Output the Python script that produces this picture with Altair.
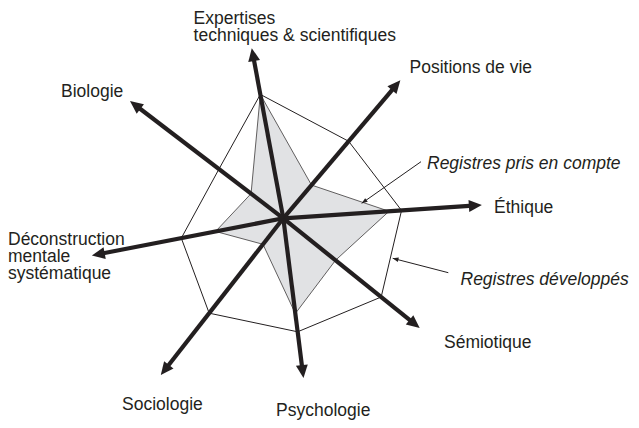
import altair as alt
import pandas as pd

# ---- data ----
categories = [
    "Expertises\ntechniques & scientifiques",
    "Positions de vie",
    "Éthique",
    "Sémiotique",
    "Psychologie",
    "Sociologie",
    "Déconstruction\nmentale\nsystématique",
    "Biologie",
]
# direction of each axis (degrees, counter-clockwise from east) and arrow length
axis_angle = [100.5, 49.7, 3.8, -38.8, -82.8, 232.0, 191.0, 142.6]
axis_length = [173, 181, 199, 175, 161, 199, 195, 193]
# outer polygon: "Registres développés"
registres_developpes = [126, 101, 118.5, 125.6, 114.4, 120.4, 103.9, 81]
# grey polygon: "Registres pris en compte"
registres_pris = [126, 43.6, 106, 67, 96, 33, 69, 40.6]

# ---- layout (label anchors relative to centre, first-line baseline) ----
label_dx = [-89.7, 126.2, 210.7, 160.7, -7.3, -161.3, -275.3, -222.3]
label_dy = [194.0, 145.3, 5.3, -129.7, -197.7, -191.7, -26.7, 121.3]

ann_text = ["Registres pris en compte", "Registres développés"]
ann_tx = [143.7, 177.2]
ann_ty = [49.4, -66.6]
ann_x1 = [137.7, 165.0]
ann_y1 = [56.6, -54.4]
ann_x2 = [78.4, 109.4]
ann_y2 = [15.0, -40.0]

INK = "#231f20"
FONT = "Liberation Sans"
FS = 17.5

df = pd.DataFrame({
    "cat": categories,
    "angle": axis_angle,
    "length": axis_length,
    "dev": registres_developpes,
    "pris": registres_pris,
    "ldx": label_dx,
    "ldy": label_dy,
    "idx": list(range(len(categories))),
})
ann = pd.DataFrame({"t": ann_text, "tx": ann_tx, "ty": ann_ty,
                    "x1": ann_x1, "y1": ann_y1, "x2": ann_x2, "y2": ann_y2})

xs = alt.Scale(domain=[-275.3, 347.7], nice=False, zero=False)
ys = alt.Scale(domain=[-201.7, 210.3], nice=False, zero=False)

base = alt.Chart(df).transform_calculate(
    rad="datum.angle * PI / 180",
).transform_calculate(
    ax="datum.length * cos(datum.rad)",
    ay="datum.length * sin(datum.rad)",
    sx="(datum.length - 9) * cos(datum.rad)",
    sy="(datum.length - 9) * sin(datum.rad)",
    dvx="datum.dev * cos(datum.rad)",
    dvy="datum.dev * sin(datum.rad)",
    prx="datum.pris * cos(datum.rad)",
    pry="datum.pris * sin(datum.rad)",
    rot="(450 - datum.angle) % 360",
    zero="0",
)

inner = base.mark_line(interpolate="linear-closed", fill="#e1e2e4",
                       stroke=INK, strokeWidth=0.7).encode(
    x=alt.X("prx:Q", scale=xs, axis=None),
    y=alt.Y("pry:Q", scale=ys, axis=None),
    order=alt.Order("idx:Q"),
)
outer = base.mark_line(interpolate="linear-closed", stroke=INK, strokeWidth=1).encode(
    x=alt.X("dvx:Q", scale=xs, axis=None),
    y=alt.Y("dvy:Q", scale=ys, axis=None),
    order=alt.Order("idx:Q"),
)
shafts = base.mark_rule(color=INK, strokeWidth=4.2, strokeCap="butt").encode(
    x=alt.X("zero:Q", scale=xs, axis=None),
    y=alt.Y("zero:Q", scale=ys, axis=None),
    x2="sx:Q",
    y2="sy:Q",
)
heads = base.mark_point(shape="M0,0L0.55,1.2L-0.55,1.2Z", filled=True, color=INK,
                        opacity=1, size=470).encode(
    x=alt.X("ax:Q", scale=xs, axis=None),
    y=alt.Y("ay:Q", scale=ys, axis=None),
    angle=alt.Angle("rot:Q", scale=None),
)
labels = base.mark_text(align="left", baseline="alphabetic", font=FONT, fontSize=FS,
                        lineBreak="\n", lineHeight=17, color=INK).encode(
    x=alt.X("ldx:Q", scale=xs, axis=None),
    y=alt.Y("ldy:Q", scale=ys, axis=None),
    text="cat:N",
)

abase = alt.Chart(ann).transform_calculate(
    rot="(450 - atan2(datum.y2 - datum.y1, datum.x2 - datum.x1) * 180 / PI) % 360"
)
ann_lines = abase.mark_rule(color=INK, strokeWidth=1).encode(
    x=alt.X("x1:Q", scale=xs, axis=None),
    y=alt.Y("y1:Q", scale=ys, axis=None),
    x2="x2:Q",
    y2="y2:Q",
)
ann_heads = abase.mark_point(shape="M0,0L0.5,1.3L-0.5,1.3Z", filled=True, color=INK,
                             opacity=1, size=80).encode(
    x=alt.X("x2:Q", scale=xs, axis=None),
    y=alt.Y("y2:Q", scale=ys, axis=None),
    angle=alt.Angle("rot:Q", scale=None),
)
ann_text_layer = abase.mark_text(align="left", baseline="alphabetic", font=FONT,
                                 fontSize=FS, fontStyle="italic", color=INK).encode(
    x=alt.X("tx:Q", scale=xs, axis=None),
    y=alt.Y("ty:Q", scale=ys, axis=None),
    text="t:N",
)

chart = alt.layer(
    inner, outer, shafts, heads, labels, ann_lines, ann_heads, ann_text_layer
).properties(
    width=623, height=412, padding=0,
    autosize=alt.AutoSizeParams(type="none"),
    background="white",
).configure_view(stroke=None)

chart.save("out.html", embed_options={"renderer": "svg", "actions": False})
